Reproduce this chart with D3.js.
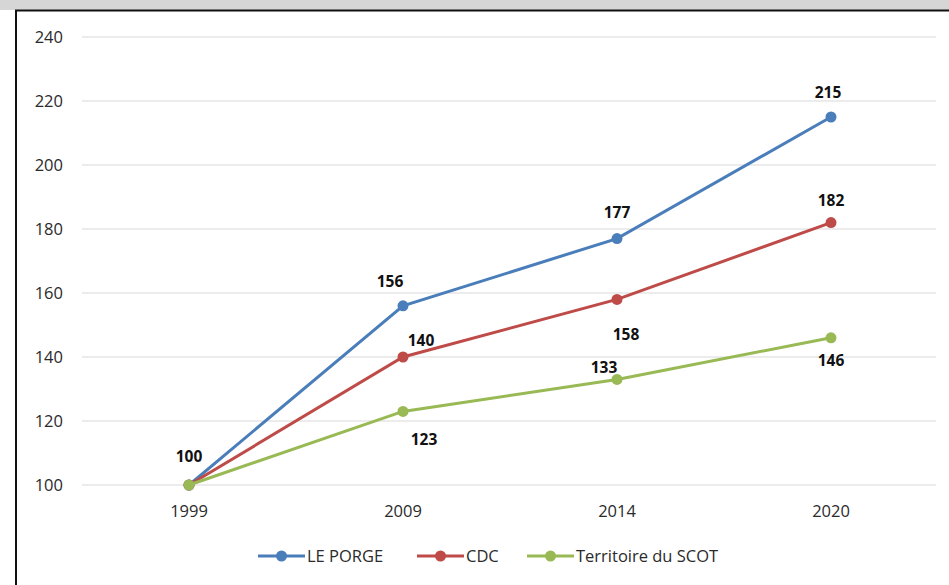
<!DOCTYPE html>
<html>
<head>
<meta charset="utf-8">
<script src="https://cdn.jsdelivr.net/npm/d3@7"></script>
<style>
  body { margin: 0; background: #fff; }
  svg { display: block; font-family: "Open Sans", sans-serif; }
</style>
</head>
<body>
<svg id="svg"></svg>
<script>
// data
let years = ["1999", "2009", "2014", "2020"]
let lePorge = [100, 156, 177, 215]
let cdc = [100, 140, 158, 182]
let scot = [100, 123, 133, 146]
let yTicks = [100, 120, 140, 160, 180, 200, 220, 240]
let seriesNames = ["LE PORGE", "CDC", "Territoire du SCOT"]

// colors
let blue = "#4a7ebb"
let red = "#be4b48"
let green = "#98b954"

let width = 949,
    height = 585;

let svg = d3.select("#svg")
    .attr("width", width)
    .attr("height", height);

// frame: grey band on top, black border
svg.append("rect").attr("x", 0).attr("y", 0).attr("width", width).attr("height", 10).attr("fill", "#d6d6d6");
svg.append("line").attr("x1", 15).attr("x2", width).attr("y1", 10.5).attr("y2", 10.5).attr("stroke", "#111").attr("stroke-width", 2);
svg.append("line").attr("x1", 16).attr("x2", 16).attr("y1", 10).attr("y2", height).attr("stroke", "#111").attr("stroke-width", 2);

let x = d3.scalePoint()
    .domain(years)
    .range([82, 938])
    .padding(0.5);

let y = d3.scaleLinear()
    .domain([100, 240])
    .range([485, 37]);

// gridlines
svg.append("g")
    .selectAll("line")
    .data(yTicks)
    .join("line")
    .attr("x1", 82).attr("x2", 936)
    .attr("y1", d => y(d)).attr("y2", d => y(d))
    .attr("stroke", "#d9d9d9")
    .attr("stroke-width", 1);

// y labels
svg.append("g")
    .selectAll("text")
    .data(yTicks)
    .join("text")
    .attr("x", 63)
    .attr("y", d => y(d))
    .attr("dy", "0.35em")
    .attr("text-anchor", "end")
    .attr("font-size", 16.5)
    .attr("fill", "#2a2a2a")
    .text(d => d);

// x labels
svg.append("g")
    .selectAll("text")
    .data(years)
    .join("text")
    .attr("x", d => x(d))
    .attr("y", 511)
    .attr("dy", "0.35em")
    .attr("text-anchor", "middle")
    .attr("font-size", 16.5)
    .attr("fill", "#2a2a2a")
    .text(d => d);

let series = [
  { name: seriesNames[0], values: lePorge, color: blue, labelPos: [[0, -28], [-13, -24], [0, -26], [-3, -24]] },
  { name: seriesNames[1], values: cdc, color: red, labelPos: [null, [18, -16], [9, 35], [0, -22]] },
  { name: seriesNames[2], values: scot, color: green, labelPos: [null, [21, 28], [-13, -12], [0, 23]] }
];

let line = d3.line()
    .x((d, i) => x(years[i]))
    .y(d => y(d));

// later series drawn on top
series.forEach(s => {
  svg.append("path")
      .datum(s.values)
      .attr("fill", "none")
      .attr("stroke", s.color)
      .attr("stroke-width", 3)
      .attr("d", line);
  svg.append("g")
      .selectAll("circle")
      .data(s.values)
      .join("circle")
      .attr("cx", (d, i) => x(years[i]))
      .attr("cy", d => y(d))
      .attr("r", 5.5)
      .attr("fill", s.color);
});

// data labels
series.forEach(s => {
  s.values.forEach((v, i) => {
    let p = s.labelPos[i];
    if (!p) return;
    svg.append("text")
        .attr("x", x(years[i]) + p[0])
        .attr("y", y(v) + p[1])
        .attr("dy", "0.35em")
        .attr("text-anchor", "middle")
        .attr("font-size", 15.5)
        .attr("font-weight", "bold")
        .attr("fill", "#111")
        .text(v);
  });
});

// legend
let legendX = [258, 417, 527];
let legend = svg.append("g");
series.forEach((s, i) => {
  let lx = legendX[i];
  legend.append("line")
      .attr("x1", lx).attr("x2", lx + 47)
      .attr("y1", 556).attr("y2", 556)
      .attr("stroke", s.color).attr("stroke-width", 3);
  legend.append("circle")
      .attr("cx", lx + 23.5).attr("cy", 556).attr("r", 5.5)
      .attr("fill", s.color);
  legend.append("text")
      .attr("x", lx + 49).attr("y", 556)
      .attr("dy", "0.35em")
      .attr("font-size", 16.5)
      .attr("fill", "#2a2a2a")
      .text(s.name);
});
</script>
</body>
</html>
